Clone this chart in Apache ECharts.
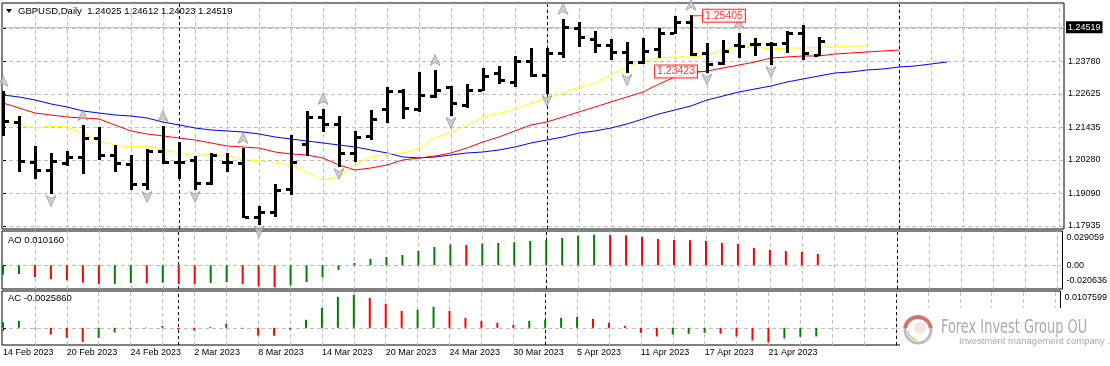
<!DOCTYPE html>
<html><head><meta charset="utf-8">
<script src="https://cdn.jsdelivr.net/npm/echarts@6/dist/echarts.min.js"></script>
<style>html,body{margin:0;padding:0;background:#fff}#c{width:1110px;height:366px}</style>
</head><body><div id="c"></div>
<script>
const symbolName = 'GBPUSD';
const timeframe = 'Daily';
const dates = ['14 Feb 2023','15 Feb 2023','16 Feb 2023','17 Feb 2023','20 Feb 2023','21 Feb 2023','22 Feb 2023','23 Feb 2023','24 Feb 2023','27 Feb 2023','28 Feb 2023','1 Mar 2023','2 Mar 2023','3 Mar 2023','6 Mar 2023','7 Mar 2023','8 Mar 2023','9 Mar 2023','10 Mar 2023','13 Mar 2023','14 Mar 2023','15 Mar 2023','16 Mar 2023','17 Mar 2023','20 Mar 2023','21 Mar 2023','22 Mar 2023','23 Mar 2023','24 Mar 2023','27 Mar 2023','28 Mar 2023','29 Mar 2023','30 Mar 2023','31 Mar 2023','3 Apr 2023','4 Apr 2023','5 Apr 2023','6 Apr 2023','7 Apr 2023','10 Apr 2023','11 Apr 2023','12 Apr 2023','13 Apr 2023','14 Apr 2023','17 Apr 2023','18 Apr 2023','19 Apr 2023','20 Apr 2023','21 Apr 2023','24 Apr 2023','25 Apr 2023','26 Apr 2023'];
const opens  = [1.21400,1.21630,1.20209,1.19925,1.20174,1.20387,1.21062,1.20458,1.20138,1.19427,1.20600,1.20209,1.20280,1.19463,1.20209,1.20174,1.18255,1.18433,1.19250,1.20849,1.21808,1.21559,1.20529,1.21133,1.22092,1.22732,1.22092,1.22554,1.22874,1.22234,1.22767,1.23371,1.23051,1.23798,1.23300,1.24082,1.24970,1.24579,1.24366,1.24117,1.23762,1.24224,1.24792,1.25183,1.24082,1.23726,1.24366,1.24402,1.24402,1.24437,1.24792,1.24025];
const highs  = [1.22696,1.21808,1.20742,1.20493,1.20564,1.21488,1.21417,1.20778,1.20422,1.20636,1.21453,1.20884,1.20387,1.20493,1.20493,1.20671,1.18610,1.19392,1.21133,1.21986,1.22057,1.21808,1.21275,1.22021,1.22838,1.22767,1.23371,1.23442,1.22874,1.22945,1.23513,1.23584,1.23940,1.24224,1.24224,1.25254,1.25148,1.24828,1.24544,1.24437,1.24579,1.24934,1.25361,1.25405,1.24402,1.24508,1.24757,1.24579,1.24437,1.24828,1.25041,1.24612];
const lows   = [1.21168,1.19889,1.19641,1.19108,1.20102,1.19818,1.20316,1.19889,1.19250,1.19250,1.20174,1.19641,1.19250,1.19427,1.19889,1.18255,1.18006,1.18290,1.19072,1.20458,1.21311,1.20067,1.20245,1.21026,1.21630,1.21772,1.22021,1.22518,1.21879,1.22163,1.22767,1.23016,1.22909,1.23265,1.22661,1.23940,1.24330,1.24117,1.23869,1.23407,1.23726,1.23940,1.24792,1.24011,1.23423,1.23691,1.23940,1.24011,1.23691,1.24117,1.23869,1.24023];
const closes = [1.21666,1.20245,1.19925,1.20245,1.20387,1.21062,1.20458,1.20174,1.19427,1.20600,1.20209,1.20195,1.19463,1.20458,1.20215,1.18270,1.18433,1.19214,1.20209,1.21808,1.21559,1.20529,1.21097,1.21737,1.22732,1.22128,1.22590,1.22767,1.22305,1.22767,1.23265,1.23122,1.23798,1.23300,1.24082,1.25006,1.24650,1.24366,1.24117,1.23762,1.24153,1.24792,1.25183,1.24046,1.23691,1.24153,1.24330,1.24390,1.24410,1.24792,1.24082,1.24519];
const lipsYellow = [1.21630,1.21559,1.21417,1.21488,1.21453,1.21204,1.20955,1.20813,1.20742,1.20778,1.20671,1.20529,1.20422,1.20493,1.20422,1.20316,1.20245,1.20209,1.20102,1.19854,1.19570,1.19676,1.20138,1.20387,1.20493,1.20529,1.20706,1.21062,1.21275,1.21524,1.21808,1.21950,1.22092,1.22305,1.22483,1.22661,1.22874,1.23016,1.23300,1.23584,1.23798,1.23904,1.23940,1.23940,1.24011,1.24188,1.24330,1.24295,1.24224,1.24259,1.24259,1.24295,1.24295,1.24330,1.24330];
const teethRed = [1.22305,1.22128,1.21950,1.21879,1.21808,1.21772,1.21737,1.21524,1.21311,1.21204,1.21133,1.21062,1.20991,1.20884,1.20778,1.20742,1.20706,1.20564,1.20493,1.20458,1.20351,1.20102,1.19925,1.19996,1.20102,1.20280,1.20351,1.20422,1.20529,1.20706,1.20920,1.21097,1.21311,1.21524,1.21630,1.21808,1.21986,1.22163,1.22341,1.22518,1.22696,1.22980,1.23229,1.23371,1.23442,1.23549,1.23655,1.23762,1.23904,1.23940,1.23975,1.23975,1.24046,1.24082,1.24117,1.24153,1.24188];
const jawBlue = [1.22590,1.22518,1.22412,1.22270,1.22163,1.22021,1.21950,1.21879,1.21843,1.21772,1.21630,1.21524,1.21417,1.21346,1.21311,1.21275,1.21204,1.21097,1.21026,1.20955,1.20884,1.20813,1.20742,1.20636,1.20529,1.20387,1.20351,1.20387,1.20458,1.20529,1.20564,1.20636,1.20742,1.20884,1.20991,1.21097,1.21240,1.21311,1.21417,1.21559,1.21737,1.21915,1.22057,1.22199,1.22412,1.22554,1.22696,1.22803,1.22909,1.23051,1.23158,1.23265,1.23371,1.23407,1.23478,1.23513,1.23584,1.23620,1.23691,1.23762];
const fractalUpIdx = [0,5,10,15,20,27,35,43,46];
const fractalDownIdx = [3,9,12,16,21,28,34,39,44,48];
const markedHighIdx = [43];
const markedLowIdx = [44];
const aoValues = [-0.0084,-0.0078,-0.0105,-0.0123,-0.0135,-0.0156,-0.0168,-0.0167,-0.0159,-0.0161,-0.0156,-0.0168,-0.0170,-0.0159,-0.0150,-0.0168,-0.0189,-0.0198,-0.0180,-0.0150,-0.0108,-0.0042,0.0021,0.0057,0.0075,0.0093,0.0129,0.0165,0.0186,0.0184,0.0195,0.0201,0.0207,0.0219,0.0228,0.0246,0.0267,0.0276,0.0274,0.0270,0.0255,0.0237,0.0228,0.0226,0.0219,0.0201,0.0192,0.0156,0.0138,0.0129,0.0120,0.010160];
const acValues = [0.0017,0.0021,-0.0002,-0.0020,-0.0030,-0.0042,-0.0030,-0.0014,-0.0002,0.0001,0.0006,-0.0005,-0.0008,0.0003,0.0012,-0.0002,-0.0023,-0.0024,-0.0005,0.0024,0.0060,0.0093,0.0099,0.0090,0.0072,0.0051,0.0054,0.0063,0.0051,0.0030,0.0021,0.0015,0.0009,0.0021,0.0024,0.0030,0.0033,0.0027,0.0015,0.0006,-0.0015,-0.0026,-0.0020,-0.0018,-0.0015,-0.0018,-0.0026,-0.0038,-0.0044,-0.0032,-0.0027,-0.0025860];
const priceTicks = [1.24970,1.23780,1.22625,1.21435,1.20280,1.19090,1.17935];
const aoTicks = [0.029059,0,-0.020636];
const aoTickLabels = ['0.029059','0.00','-0.020636'];
const acTicks = [0.0107599];
const acTickLabels = ['0.0107599'];
const dateLabelIdx = [0,4,8,12,16,20,24,28,32,36,40,44,48];
const gridIdx = [2,4,6,8,10,12,14,16,18,20,22,24,26,28,30,32,34,36,38,40,42,44,46,48,50,52,54,56,58,60,62,64,66];
const separatorIdx = [11,34,56];

const FONT = '"Liberation Sans", Arial, sans-serif';
const N = closes.length;
const xMin = -0.0625, xMax = 66.3125;
const ohlc = opens.map((o,i)=>[i,o,highs[i],lows[i],closes[i]]);
const toXY = arr => arr.map((v,i)=>[i,v]);
const histData = arr => arr.map((v,i)=>({value:[i,v], itemStyle:{color:(i===0||v>=arr[i-1])?'#008000':'#ff0000'}}));
const gridLineStyle = {color:'#c0c0c0', type:[4,3], width:1};
const sepStyle = {color:'#000', type:[3,3], width:1};
const vLines = () => gridIdx.map(v=>({xAxis:v, lineStyle:gridLineStyle})).concat(separatorIdx.map(v=>({xAxis:v, lineStyle:sepStyle})));
const fmt = (ticks, labels) => v => {
  let k = 0, best = Infinity;
  ticks.forEach((t,j)=>{ if (Math.abs(t-v) < best) { best = Math.abs(t-v); k = j; } });
  const s = labels[k];
  if (ticks[k] === Math.max(...ticks) && ticks.length > 1 || ticks.length === 1) return '{t|' + s + '}';
  if (ticks[k] === Math.min(...ticks)) return '{b|' + s + '}';
  return '{n|' + s + '}';
};
const lblBase = {color:'#000', fontSize:9, fontFamily:FONT};

const titleText = symbolName + ',' + timeframe + '  ' + opens[N-1].toFixed(5) + ' ' + highs[N-1].toFixed(5) + ' ' + lows[N-1].toFixed(5) + ' ' + closes[N-1].toFixed(5);
const aoText = 'AO ' + aoValues[N-1].toFixed(6);
const acText = 'AC ' + acValues[N-1].toFixed(7);

const mkXAxis = (gi, showLabels) => ({
  gridIndex: gi, type:'value', min:xMin, max:xMax, position:'bottom',
  axisLine:{show:false}, splitLine:{show:false},
  axisTick:{show:showLabels, length:3, lineStyle:{color:'#000'}, customValues: dateLabelIdx},
  axisLabel:{show:showLabels, customValues: dateLabelIdx, formatter: v => dates[Math.round(v)] || '', align:'left', margin:3, ...lblBase}
});

const helper = (xi, extra) => ({
  type:'line', xAxisIndex:xi, yAxisIndex:xi, data:[], z:1, silent:true,
  markLine:{silent:true, z:1, symbol:['none','none'], animation:false, label:{show:false}, emphasis:{disabled:true},
    data: vLines().concat(extra || [])}
});

const option = {
  animation:false,
  backgroundColor:'#fff',
  grid:[
    {left:2, right:46, top:3, height:226, show:true, borderColor:'#000', borderWidth:1},
    {left:2, right:46, top:231, height:58, show:true, borderColor:'#000', borderWidth:1},
    {left:2, right:46, top:291, height:54, show:true, borderColor:'#000', borderWidth:1}
  ],
  xAxis:[ mkXAxis(0,false), mkXAxis(1,false), mkXAxis(2,true) ],
  yAxis:[
    {gridIndex:0, type:'value', position:'right', min:1.17828, max:1.25858,
     axisLine:{show:false},
     axisTick:{show:true, length:3, lineStyle:{color:'#000'}, customValues: priceTicks},
     axisLabel:{customValues: priceTicks, formatter: v => v.toFixed(5), margin:4, ...lblBase},
     splitLine:{show:true, lineStyle:gridLineStyle}},
    {gridIndex:1, type:'value', position:'right', min:-0.02131, max:0.03084,
     axisLine:{show:false},
     axisTick:{show:true, length:3, lineStyle:{color:'#000'}, customValues:[0]},
     axisLabel:{customValues: aoTicks, formatter: fmt(aoTicks, aoTickLabels), margin:4, ...lblBase,
       rich:{t:{padding:[10,0,0,0], ...lblBase}, b:{padding:[0,0,16,0], ...lblBase}, n:{...lblBase}}},
     splitLine:{show:true, lineStyle:gridLineStyle}},
    {gridIndex:2, type:'value', position:'right', min:-0.00516, max:0.01106,
     axisLine:{show:false},
     axisTick:{show:true, length:3, lineStyle:{color:'#000'}, customValues:[0]},
     axisLabel:{customValues: acTicks, formatter: fmt(acTicks, acTickLabels), margin:4, ...lblBase,
       rich:{t:{padding:[12,0,0,0], ...lblBase}, b:{...lblBase}, n:{...lblBase}}},
     splitLine:{show:true, lineStyle:gridLineStyle}}
  ],
  series:[
    helper(0, [{yAxis: closes[N-1], lineStyle:{color:'#c0c0c0', type:'solid', width:1},
      label:{show:true, position:'end', distance:2, formatter: () => closes[N-1].toFixed(5), color:'#fff', backgroundColor:'#000', padding:[2,2,1,2], fontSize:9, fontFamily:FONT}}]),
    {type:'line', name:'Jaw', xAxisIndex:0, yAxisIndex:0, data:toXY(jawBlue), showSymbol:false, symbol:'none', z:2, lineStyle:{color:'#0000ff', width:1}, silent:true},
    {type:'line', name:'Teeth', xAxisIndex:0, yAxisIndex:0, data:toXY(teethRed), showSymbol:false, symbol:'none', z:2, lineStyle:{color:'#ff0000', width:1}, silent:true},
    {type:'line', name:'Lips', xAxisIndex:0, yAxisIndex:0, data:toXY(lipsYellow), showSymbol:false, symbol:'none', z:2, lineStyle:{color:'#ffff00', width:1}, silent:true},
    {type:'custom', name:'GBPUSD', xAxisIndex:0, yAxisIndex:0, z:3, clip:true, data:ohlc,
     encode:{x:0, y:[1,2,3,4]},
     renderItem:(params, api) => {
       const i = api.value(0);
       const x = Math.round(api.coord([i, api.value(1)])[0]);
       const yo = Math.round(api.coord([i, api.value(1)])[1]);
       const yh = Math.round(api.coord([i, api.value(2)])[1]);
       const yl = Math.round(api.coord([i, api.value(3)])[1]);
       const yc = Math.round(api.coord([i, api.value(4)])[1]);
       const st = {fill:'#000'};
       return {type:'group', children:[
         {type:'rect', shape:{x:x-1, y:yh-1, width:3, height:yl-yh+2}, style:st},
         {type:'rect', shape:{x:x-5, y:yo-1, width:4, height:3}, style:st},
         {type:'rect', shape:{x:x+2, y:yc-1, width:4, height:3}, style:st}
       ]};
     }},
    {type:'scatter', name:'FractalUp', xAxisIndex:0, yAxisIndex:0, z:4, silent:true,
     data: fractalUpIdx.map(i=>[i, highs[i]]),
     symbol:'path://M5,0 L10,11 L5,8 L0,11 Z', symbolSize:[10,11], symbolOffset:[0,-11],
     itemStyle:{color:'#c4c4c4', borderColor:'#7a7a7a', borderWidth:0.7}},
    {type:'scatter', name:'FractalDown', xAxisIndex:0, yAxisIndex:0, z:4, silent:true,
     data: fractalDownIdx.map(i=>[i, lows[i]]),
     symbol:'path://M0,0 L5,3 L10,0 L5,11 Z', symbolSize:[10,11], symbolOffset:[0,8],
     itemStyle:{color:'#c4c4c4', borderColor:'#7a7a7a', borderWidth:0.7}},
    {type:'scatter', name:'Marks', xAxisIndex:0, yAxisIndex:0, z:6, silent:true,
     data: markedHighIdx.map(i=>({value:[i, highs[i]], symbol:'rect', symbolSize:[12,1], symbolOffset:[6,0],
            label:{show:true, position:'right', distance:0, formatter: highs[i].toFixed(5)}}))
       .concat(markedLowIdx.map(i=>({value:[i, lows[i]], symbol:'rect', symbolSize:[10,1], symbolOffset:[-5,0],
            label:{show:true, position:'left', distance:0, formatter: lows[i].toFixed(5)}}))),
     itemStyle:{color:'#ff0000'},
     label:{color:'#ff0000', fontSize:10.5, fontFamily:FONT, backgroundColor:'#fff', borderColor:'#ff0000', borderWidth:1, padding:[1,2,0,2]}},
    helper(1),
    {type:'bar', name:'AO', xAxisIndex:1, yAxisIndex:1, data:histData(aoValues), barWidth:2, z:3, silent:true},
    helper(2),
    {type:'bar', name:'AC', xAxisIndex:2, yAxisIndex:2, data:histData(acValues), barWidth:2, z:3, silent:true}
  ],
  graphic:[
    {type:'polygon', shape:{points:[[6,9],[12,9],[9,13]]}, style:{fill:'#000'}, z:50},
    {type:'text', x:18, y:11, z:50, style:{text:titleText, fill:'#000', fontSize:9.5, fontFamily:FONT, verticalAlign:'middle', textVerticalAlign:'middle'}},
    {type:'text', x:8, y:240.5, z:50, style:{text:aoText, fill:'#000', fontSize:9.5, fontFamily:FONT, verticalAlign:'middle', textVerticalAlign:'middle'}},
    {type:'text', x:8, y:298, z:50, style:{text:acText, fill:'#000', fontSize:9.5, fontFamily:FONT, verticalAlign:'middle', textVerticalAlign:'middle'}},
    {type:'rect', shape:{x:900, y:308, width:210, height:58}, style:{fill:'#fff'}, z:100},
    {type:'circle', shape:{cx:918, cy:330, r:13}, style:{fill:'none', stroke:'#bdbdbd', lineWidth:3}, z:101},
    {type:'arc', shape:{cx:918, cy:330, r:13, startAngle:Math.PI*1.05, endAngle:Math.PI*1.95, clockwise:true}, style:{fill:'none', stroke:'#d9706a', lineWidth:4}, z:102},
    {type:'arc', shape:{cx:918, cy:330, r:10, startAngle:Math.PI*0.55, endAngle:Math.PI*1.0, clockwise:true}, style:{fill:'none', stroke:'#a9b04a', lineWidth:2, lineDash:[1,1]}, z:102},
    {type:'circle', shape:{cx:920, cy:328, r:6}, style:{fill:'#f6e3e1'}, z:101},
    {type:'text', x:941, y:328, z:103, scaleX:0.72, originX:0, originY:0, style:{text:'Forex Invest Group OU', fill:'#ababab', fontSize:20, fontFamily:'"Liberation Sans Narrow", "DejaVu Sans Condensed", Arial, sans-serif', verticalAlign:'middle', textVerticalAlign:'middle'}},
    {type:'text', x:959, y:341.5, z:103, style:{text:'Investment management company .', fill:'#a8a8a8', fontSize:9.5, fontFamily:FONT, verticalAlign:'middle', textVerticalAlign:'middle'}}
  ]
};
const chart = echarts.init(document.getElementById('c'));
chart.setOption(option);
</script></body></html>
